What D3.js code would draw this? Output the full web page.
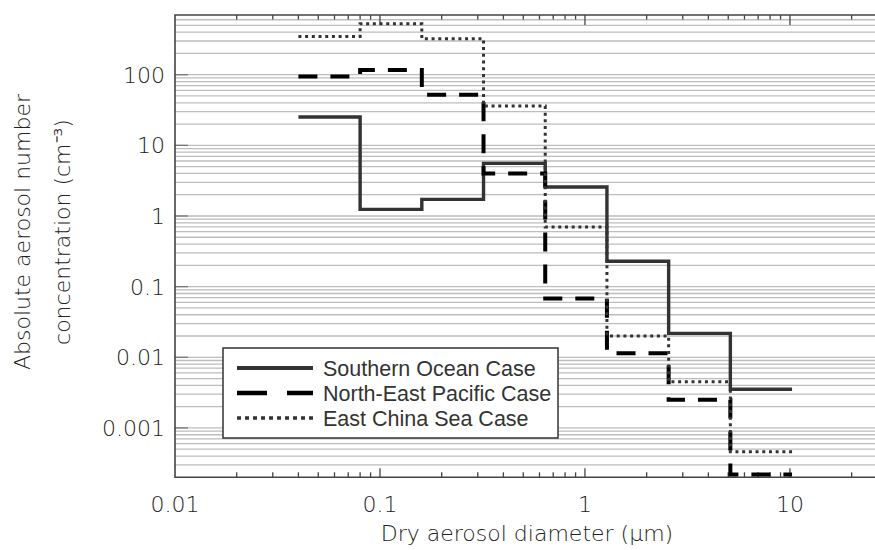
<!DOCTYPE html>
<html>
<head>
<meta charset="utf-8">
<script src="https://cdn.jsdelivr.net/npm/d3@7"></script>
<style>
  html, body { margin: 0; padding: 0; background: #fff; }
  svg { display: block; }
</style>
</head>
<body>
<svg id="chart" width="875" height="550"></svg>
<script>
// ---- data ----
const binEdges = [0.04, 0.08, 0.16, 0.32, 0.64, 1.28, 2.56, 5.12, 10.24];
const southernOcean = [25.2, 1.24, 1.72, 5.55, 2.57, 0.229, 0.0218, 0.00353];
const northEastPacific = [94.6, 117, 52.2, 3.98, 0.068, 0.0114, 0.0025, 0.00022];
const eastChinaSea = [348, 526, 323, 36, 0.70, 0.020, 0.0045, 0.00046];
const seriesNames = ["Southern Ocean Case", "North-East Pacific Case", "East China Sea Case"];
const xTickValues = [0.01, 0.1, 1, 10];
const xTickLabels = ["0.01", "0.1", "1", "10"];
const yTickValues = [0.001, 0.01, 0.1, 1, 10, 100];
const yTickLabels = ["0.001", "0.01", "0.1", "1", "10", "100"];
const xTitle = "Dry aerosol diameter (\u03bcm)";
const yTitle1 = "Absolute aerosol number";
const yTitle2 = "concentration (cm\u207b\u00b3)";

// ---- layout ----
const L = 175, R = 875, T = 15, B = 477.3;
const svg = d3.select("#chart");
const x = d3.scaleLog().domain([0.01, 26]).range([L, R]);
const y = d3.scaleLog().domain([2e-4, 700]).range([B, T]);
const axisFont = "'DejaVu Sans', sans-serif";
const textColor = "#222";

// grid lines (every 1..9 x 10^k)
const gridVals = y.ticks(50).filter(v => v > 2e-4 && v < 700);
svg.append("g")
  .selectAll("line").data(gridVals).join("line")
  .attr("x1", L).attr("x2", R)
  .attr("y1", d => y(d)).attr("y2", d => y(d))
  .attr("stroke", "#bdbdbd").attr("stroke-width", 1.3);

// x minor tick values
const xMinor = x.ticks(50).filter(v => v > 0.01 && v < 26);
const isMajor = v => Math.abs(Math.log10(v) - Math.round(Math.log10(v))) < 1e-6;

// bottom axis ticks (inward)
svg.append("g").selectAll("line").data(xMinor).join("line")
  .attr("x1", d => x(d)).attr("x2", d => x(d))
  .attr("y1", B).attr("y2", d => B - (isMajor(d) ? 9 : 5))
  .attr("stroke", "#444").attr("stroke-width", 1.3);
// top axis ticks (inward)
svg.append("g").selectAll("line").data(xMinor).join("line")
  .attr("x1", d => x(d)).attr("x2", d => x(d))
  .attr("y1", T).attr("y2", d => T + (isMajor(d) ? 10 : 4.5))
  .attr("stroke", "#444").attr("stroke-width", 1.3);
// left major ticks
svg.append("g").selectAll("line").data(yTickValues).join("line")
  .attr("x1", L).attr("x2", L + 13)
  .attr("y1", d => y(d)).attr("y2", d => y(d))
  .attr("stroke", "#777").attr("stroke-width", 1.3);

// frame
svg.append("path")
  .attr("d", `M${R},${T}H${L}V${B}H${R}`)
  .attr("fill", "none").attr("stroke", "#444").attr("stroke-width", 1.6);

// x tick labels
svg.append("g").selectAll("text").data(xTickValues).join("text")
  .attr("x", d => x(d)).attr("y", 512)
  .attr("text-anchor", "middle")
  .attr("font-family", axisFont).attr("font-size", 22).attr("font-weight", 300)
  .attr("fill", textColor)
  .text((d, i) => xTickLabels[i]);

// y tick labels
svg.append("g").selectAll("text").data(yTickValues).join("text")
  .attr("x", 165).attr("y", d => y(d)).attr("dy", "0.36em")
  .attr("text-anchor", "end")
  .attr("font-family", axisFont).attr("font-size", 22).attr("font-weight", 300)
  .attr("fill", textColor)
  .text((d, i) => yTickLabels[i]);

// axis titles
svg.append("text")
  .attr("x", 527).attr("y", 541)
  .attr("text-anchor", "middle")
  .attr("font-family", axisFont).attr("font-size", 22).attr("font-weight", 300)
  .attr("fill", textColor)
  .text(xTitle);
svg.append("text")
  .attr("transform", "translate(30,232) rotate(-90)")
  .attr("text-anchor", "middle")
  .attr("font-family", axisFont).attr("font-size", 22).attr("font-weight", 300)
  .attr("fill", textColor)
  .text(yTitle1);
svg.append("text")
  .attr("transform", "translate(70,232) rotate(-90)")
  .attr("text-anchor", "middle")
  .attr("font-family", axisFont).attr("font-size", 22).attr("font-weight", 300)
  .attr("fill", textColor)
  .text(yTitle2);

// series
const styles = [
  { color: "#333", width: 3.4, dash: null },
  { color: "#000", width: 4, dash: "19,13" },
  { color: "#333", width: 3, dash: "3,3.7" }
];
const allSeries = [southernOcean, northEastPacific, eastChinaSea];
const line = d3.line().x(d => x(d[0])).y(d => y(d[1])).curve(d3.curveStepAfter);
const plotG = svg.append("g");
allSeries.forEach((vals, si) => {
  const pts = vals.map((v, i) => [binEdges[i], v]);
  pts.push([binEdges[binEdges.length - 1], vals[vals.length - 1]]);
  plotG.append("path")
    .attr("d", line(pts))
    .attr("fill", "none")
    .attr("stroke", styles[si].color)
    .attr("stroke-width", styles[si].width)
    .attr("stroke-dasharray", styles[si].dash)
    .attr("stroke-linejoin", "miter");
});

// legend
const lg = svg.append("g");
lg.append("rect")
  .attr("x", 223).attr("y", 348).attr("width", 335).attr("height", 90)
  .attr("fill", "#fff").attr("stroke", "#333").attr("stroke-width", 1.5);
seriesNames.forEach((name, i) => {
  const yy = 368 + i * 25;
  lg.append("line")
    .attr("x1", 237).attr("x2", 313).attr("y1", yy).attr("y2", yy)
    .attr("stroke", styles[i].color).attr("stroke-width", styles[i].width + 0.6)
    .attr("stroke-dasharray", i === 1 ? "30,20" : (i === 2 ? "4,4" : null));
  lg.append("text")
    .attr("x", 323).attr("y", yy).attr("dy", "0.36em")
    .attr("font-family", "'Liberation Sans', Arial, sans-serif").attr("font-size", 21.5)
    .attr("fill", "#333")
    .text(name);
});
</script>
</body>
</html>
